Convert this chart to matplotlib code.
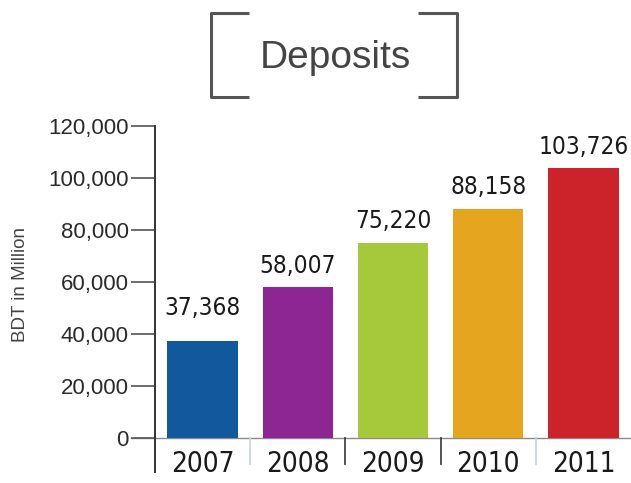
import matplotlib.pyplot as plt
from matplotlib.lines import Line2D
from matplotlib import font_manager as fm

years = ['2007', '2008', '2009', '2010', '2011']
deposits = [37368, 58007, 75220, 88158, 103726]
bar_colors = ['#11599c', '#8d2592', '#a5c93b', '#e6a51e', '#cc2229']
yticks = [0, 20000, 40000, 60000, 80000, 100000, 120000]

# pick a narrow face for the labels if one is installed
narrow_file = None
for f in fm.fontManager.ttflist:
    if f.name == 'Liberation Sans Narrow' and f.weight in (400, 'normal') and f.style == 'normal':
        narrow_file = f.fname
        break
if narrow_file is None:
    for f in fm.fontManager.ttflist:
        if f.name == 'DejaVu Sans' and f.stretch == 'condensed' and f.weight in (400, 'normal') \
                and f.style == 'normal':
            narrow_file = f.fname
            break


def narrow(size):
    if narrow_file:
        return fm.FontProperties(fname=narrow_file, size=size)
    return fm.FontProperties(family='Liberation Sans', size=size * 0.8)


regular = ['Liberation Sans', 'DejaVu Sans']

fig = plt.figure(figsize=(6.31, 4.83), dpi=100)
ax = fig.add_axes([0.2456, 0.0228, 0.7544, 0.716])

x = range(len(years))
ax.bar(x, deposits, width=0.74, color=bar_colors, zorder=2)

ax.set_xlim(-0.5, 4.5)
ax.set_ylim(-13000, 120000)

# value labels above each bar
label_pad = [15, 7, 7, 7, 7]
for i, v in enumerate(deposits):
    ax.annotate(f'{v:,}', (i, v), xytext=(0, label_pad[i]), textcoords='offset points',
                ha='center', va='bottom', fontproperties=narrow(17.5), color='#1a1a1a')

# year labels below the zero line
for i, yr in enumerate(years):
    ax.text(i, -10000, yr, ha='center', va='center', fontproperties=narrow(20),
            color='#1a1a1a')

# separators between the years
sep_colors = ['#c8d4dc', '#444444', '#444444', '#c8d4dc']
for i, c in enumerate(sep_colors):
    ax.plot([i + 0.5, i + 0.5], [0, -9800], color=c, lw=1.3, clip_on=False)

# zero line running under the bars
ax.add_line(Line2D([-0.75, 4.5], [0, 0], color='#8a8a8a', lw=1, clip_on=False, zorder=1))

for s in ['top', 'right', 'bottom']:
    ax.spines[s].set_visible(False)
ax.spines['left'].set_color('#333333')
ax.spines['left'].set_linewidth(1.4)
ax.spines['left'].set_bounds(-13000, 120000)

ax.set_xticks([])
ax.set_yticks(yticks)
ax.set_yticklabels([f'{t:,}' for t in yticks], fontsize=16, family=regular, color='#2a2a2a')
ax.tick_params(axis='y', length=17, width=1.2, color='#555555', pad=2)

fig.text(0.033, 0.41, 'BDT in Million', rotation=90, ha='center', va='center',
         fontsize=13.5, family=regular, color='#444444')

# boxed title
fig.text(0.531, 0.88, 'Deposits', ha='center', va='center', fontsize=28,
         family=regular, color='#444444')
bracket = dict(color='#555555', lw=2.2, solid_capstyle='butt')
fig.add_artist(Line2D([249/631, 211/631, 211/631, 249/631],
                      [1 - 13/483, 1 - 13/483, 1 - 97/483, 1 - 97/483], **bracket))
fig.add_artist(Line2D([418/631, 457/631, 457/631, 418/631],
                      [1 - 13/483, 1 - 13/483, 1 - 97/483, 1 - 97/483], **bracket))

fig.savefig('out.png', dpi=100)
